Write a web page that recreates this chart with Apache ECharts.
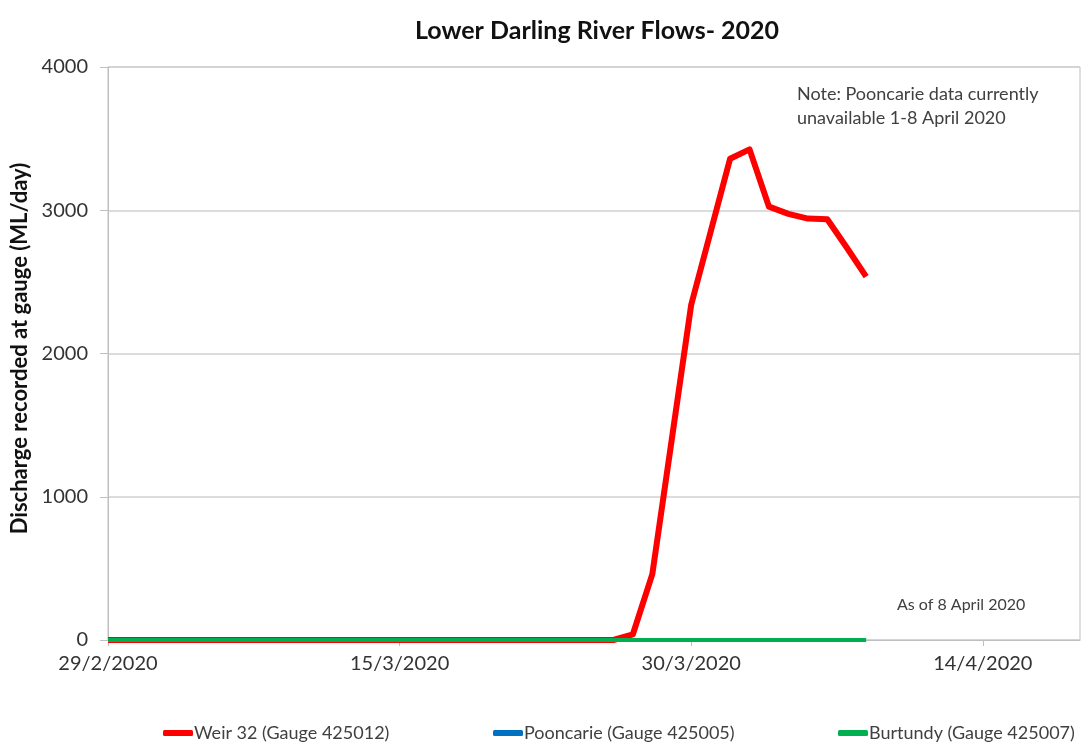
<!DOCTYPE html>
<html><head><meta charset="utf-8">
<script src="https://cdn.jsdelivr.net/npm/echarts@6/dist/echarts.min.js"></script>
<style>html,body{margin:0;padding:0;background:#fff}#c{width:1081px;height:744px}</style>
</head><body><div id="c"></div>
<script>
// Day offsets from 29/2/2020
const startDate = [2020, 1, 29]; // year, month index (Feb), day
const xTickDays = [0, 15, 30, 45];
const seriesNames = ['Weir 32 (Gauge 425012)', 'Pooncarie (Gauge 425005)', 'Burtundy (Gauge 425007)'];
// Weir 32 daily discharge, 29/2/2020 .. 8/4/2020 (40 days)
const weirValues = [0,0,0,0,0,0,0,0,0,0, 0,0,0,0,0,0,0,0,0,0, 0,0,0,0,0,0,0, 40,460,1400,2340,2850,3360,3425,3025,2975,2942,2937,2740,2537];
// Pooncarie daily discharge, 29/2/2020 .. 31/3/2020 (unavailable 1-8 April)
const pooncarieValues = [0,0,0,0,0,0,0,0,0,0, 0,0,0,0,0,0,0,0,0,0, 0,0,0,0,0,0,0,0,0,0, 0,0];
// Burtundy daily discharge, 29/2/2020 .. 8/4/2020
const burtundyValues = [0,0,0,0,0,0,0,0,0,0, 0,0,0,0,0,0,0,0,0,0, 0,0,0,0,0,0,0,0,0,0, 0,0,0,0,0,0,0,0,0,0];
const colors = ['#ff0000', '#0070c0', '#00b050'];

function toPairs(vals) {
  return vals.map((v, i) => [i, v]);
}
function dayLabel(d) {
  const dt = new Date(startDate[0], startDate[1], startDate[2] + d);
  return dt.getDate() + '/' + (dt.getMonth() + 1) + '/' + dt.getFullYear();
}
const FONT = 'Lato';
const chart = echarts.init(document.getElementById('c'));
const legendBase = {
  itemWidth: 30, itemHeight: 6, icon: 'roundRect', itemGap: 2, padding: 0,
  textStyle: {fontFamily: FONT, fontSize: 18, color: '#404040', padding: [0,0,0,-4]},
  top: 724, orient: 'horizontal'
};
chart.setOption({
  animation: false,
  color: colors,
  title: {
    text: 'Lower Darling River Flows- 2020', left: 592, textAlign: 'center', top: 13,
    textStyle: {fontFamily: FONT, fontSize: 25, fontWeight: 'bold', color: '#111'}
  },
  legend: [
    Object.assign({}, legendBase, {left: 163, data: [seriesNames[0]]}),
    Object.assign({}, legendBase, {left: 493, data: [seriesNames[1]]}),
    Object.assign({}, legendBase, {left: 838, data: [seriesNames[2]]})
  ],
  grid: {left: 108, right: 1, top: 67, bottom: 104, show: true, borderColor: '#bfbfbf', borderWidth: 1, backgroundColor: 'transparent'},
  xAxis: {
    type: 'value', min: 0, max: 50, interval: 15,
    axisLine: {lineStyle: {color: '#bfbfbf'}},
    axisTick: {show: true, length: 6, lineStyle: {color: '#bfbfbf'}},
    splitLine: {show: false},
    axisLabel: {
      showMaxLabel: false, margin: 14,
      fontFamily: FONT, fontSize: 20, color: '#333',
      formatter: v => xTickDays.includes(v) ? dayLabel(v) : ''
    }
  },
  yAxis: {
    type: 'value', min: 0, max: 4000, interval: 1000,
    name: 'Discharge recorded at gauge (ML/day)', nameLocation: 'middle', nameGap: 74,
    nameTextStyle: {fontFamily: FONT, fontSize: 22, fontWeight: 'bold', color: '#111', padding: [0, 0, 0, 10]},
    axisLine: {show: true, lineStyle: {color: '#bfbfbf'}},
    axisTick: {show: true, length: 8, lineStyle: {color: '#bfbfbf'}},
    splitLine: {lineStyle: {color: '#d0d0d0', width: 1.5}},
    axisLabel: {margin: 20, fontFamily: FONT, fontSize: 20, color: '#333', formatter: v => String(v)}
  },
  series: [
    {name: seriesNames[0], type: 'line', data: toPairs(weirValues), showSymbol: false,
     lineStyle: {width: 6, color: colors[0], join: 'round'}, itemStyle: {color: colors[0]}, z: 2},
    {name: seriesNames[1], type: 'line', data: toPairs(pooncarieValues), showSymbol: false,
     lineStyle: {width: 4, color: colors[1]}, itemStyle: {color: colors[1]}, z: 3},
    {name: seriesNames[2], type: 'line', data: toPairs(burtundyValues), showSymbol: false,
     lineStyle: {width: 4, color: colors[2]}, itemStyle: {color: colors[2]}, z: 4}
  ],
  graphic: [
    {type: 'text', left: 797, top: 82, style: {text: 'Note: Pooncarie data currently\nunavailable 1-8 April 2020', font: '18px Lato', fill: '#404040', lineHeight: 24}},
    {type: 'text', left: 897, top: 597, style: {text: 'As of 8 April 2020', font: '16px Lato', fill: '#404040'}}
  ]
});
</script></body></html>
